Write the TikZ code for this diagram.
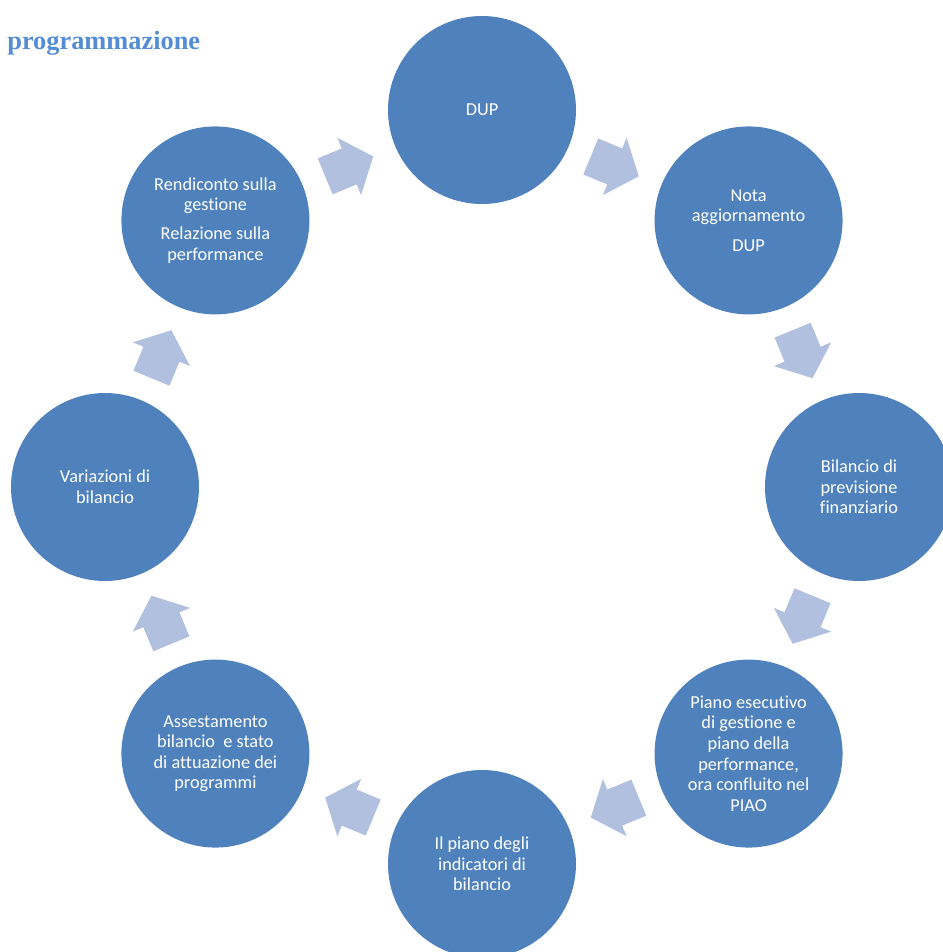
\documentclass[tikz,border=0pt]{standalone}
\usepackage{fontspec}
\setmainfont{Carlito}[Ligatures=NoCommon]
\newfontfamily\headfont{Liberation Serif}
\usepackage{xcolor}
\definecolor{stageblue}{RGB}{79,129,189}
\definecolor{arrowblue}{RGB}{176,192,222}
\definecolor{headblue}{RGB}{84,141,212}

\begin{document}
\begin{tikzpicture}
        \tikzstyle{stage}=[circle,fill=stageblue,inner sep=0pt,minimum size=3.76cm,
            text=white,align=center,font=\fontsize{10.4}{11.7}\selectfont]
        % page frame, ring centre at the origin
        \clip (-9.64,-9.30) rectangle (9.22,9.74);
        \node[anchor=base west,inner sep=0pt,text=headblue,
            font=\headfont\bfseries\fontsize{15}{18}\selectfont] (title) at (-9.50,8.76) {programmazione};
        % arrows between the stages
        \foreach \k [evaluate=\k as \a using 67.5-45*\k] in {0,...,7}{
            \fill[arrowblue,shift={(\a:6.94)},rotate=\a-90]
                (-0.52,-0.39) -- (0,-0.39) -- (0,-0.62) -- (0.52,0) -- (0,0.62) -- (0,0.39) -- (-0.52,0.39) -- cycle;
        }
        % stages
        \node[stage] (dup) at (90:7.54) {DUP};
        \node[stage] (nota) at (45:7.54) {Nota\\aggiornamento\\[5pt]DUP};
        \node[stage] (bilancio) at (0:7.54) {Bilancio di\\previsione\\finanziario};
        \node[stage] (peg) at (-45:7.54) {Piano esecutivo\\di gestione e\\piano della\\performance,\\ora confluito nel\\PIAO};
        \node[stage] (indicatori) at (-90:7.54) {Il piano degli\\indicatori di\\bilancio};
        \node[stage] (assestamento) at (-135:7.54) {Assestamento\\bilancio\ \ e stato\\di attuazione dei\\programmi};
        \node[stage] (variazioni) at (180:7.54) {Variazioni di\\bilancio};
        \node[stage] (rendiconto) at (135:7.54) {Rendiconto sulla\\gestione\\[5pt]Relazione sulla\\performance};
\end{tikzpicture}
\end{document}
